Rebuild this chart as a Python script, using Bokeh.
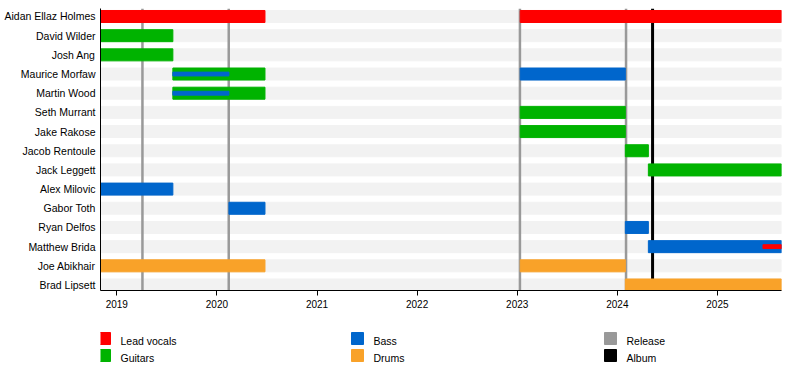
from bokeh.plotting import figure
from bokeh.models import Range1d, FixedTicker, ColumnDataSource
from bokeh.layouts import column
from bokeh.core.properties import value
from bokeh.embed import file_html
from bokeh.resources import INLINE

# ---------------- data ----------------
members = ["Aidan Ellaz Holmes", "David Wilder", "Josh Ang", "Maurice Morfaw",
           "Martin Wood", "Seth Murrant", "Jake Rakose", "Jacob Rentoule",
           "Jack Leggett", "Alex Milovic", "Gabor Toth", "Ryan Delfos",
           "Matthew Brida", "Joe Abikhair", "Brad Lipsett"]

roles = ["Lead vocals", "Guitars", "Bass", "Drums"]
role_colors = ["#ff0000", "#00b300", "#0066cc", "#f9a229"]

timeline_start = 2018.837
timeline_end = 2025.64

bar_member = ["Aidan Ellaz Holmes", "Aidan Ellaz Holmes", "David Wilder", "Josh Ang",
              "Maurice Morfaw", "Maurice Morfaw", "Martin Wood", "Seth Murrant",
              "Jake Rakose", "Jacob Rentoule", "Jack Leggett", "Alex Milovic",
              "Gabor Toth", "Ryan Delfos", "Matthew Brida", "Joe Abikhair",
              "Joe Abikhair", "Brad Lipsett"]
bar_start = [2018.837, 2023.03, 2018.837, 2018.837, 2019.56, 2023.03, 2019.56, 2023.03,
             2023.03, 2024.08, 2024.31, 2018.837, 2020.12, 2024.08, 2024.31, 2018.837,
             2023.03, 2024.08]
bar_end = [2020.48, 2025.64, 2019.56, 2019.56, 2020.48, 2024.08, 2020.48, 2024.08,
           2024.08, 2024.31, 2025.64, 2019.56, 2020.48, 2024.31, 2025.64, 2020.48,
           2024.08, 2025.64]
bar_role = ["Lead vocals", "Lead vocals", "Guitars", "Guitars", "Guitars", "Bass",
            "Guitars", "Guitars", "Guitars", "Guitars", "Guitars", "Bass", "Bass",
            "Bass", "Bass", "Drums", "Drums", "Drums"]

sec_member = ["Maurice Morfaw", "Martin Wood", "Matthew Brida"]
sec_start = [2019.56, 2019.56, 2025.455]
sec_end = [2020.12, 2020.12, 2025.64]
sec_role = ["Bass", "Bass", "Lead vocals"]

release_dates = [2019.256, 2020.118, 2023.027, 2024.087]
album_dates = [2024.352]

years = [2019, 2020, 2021, 2022, 2023, 2024, 2025]

legend_labels = ["Lead vocals", "Guitars", "Bass", "Drums", "Release", "Album"]
legend_colors = ["#ff0000", "#00b300", "#0066cc", "#f9a229", "#999999", "#000000"]

release_color = "#999999"
album_color = "#000000"
stripe_color = "#f2f2f2"

# ---------------- main chart ----------------
FONT = "Liberation Sans"
y_top = -0.417
y_bottom = 14.287
bar_h = 0.626
thin_h = 0.2
FRAME_L, FRAME_R = 100, 781
MAIN_H = 320

p = figure(width=800, height=MAIN_H, output_backend="svg", toolbar_location=None,
           x_range=Range1d(timeline_start, timeline_end),
           y_range=Range1d(y_bottom, y_top),
           min_border_left=FRAME_L, min_border_right=800 - FRAME_R, min_border_top=8,
           min_border_bottom=30)
p.outline_line_color = None
p.xgrid.visible = False
p.ygrid.visible = False

idx = {m: i for i, m in enumerate(members)}
cmap = dict(zip(roles, role_colors))

# background stripes
p.hbar(y=list(range(len(members))), left=timeline_start, right=timeline_end,
       height=bar_h, color=stripe_color)

# release / album lines
p.segment(x0=release_dates, x1=release_dates, y0=y_bottom, y1=y_top,
          line_color=release_color, line_width=2.5)
p.segment(x0=album_dates, x1=album_dates, y0=y_bottom, y1=y_top,
          line_color=album_color, line_width=3)

# main bars
src = ColumnDataSource(dict(
    y=[idx[m] for m in bar_member], left=bar_start, right=bar_end,
    color=[cmap[r] for r in bar_role]))
p.hbar(y="y", left="left", right="right", height=bar_h, color="color", source=src)

# secondary thin bars
src2 = ColumnDataSource(dict(
    y=[idx[m] for m in sec_member], left=sec_start, right=sec_end,
    color=[cmap[r] for r in sec_role]))
p.hbar(y="y", left="left", right="right", height=thin_h, color="color", source=src2)

# axes
p.xaxis.ticker = FixedTicker(ticks=years)
p.xaxis.major_label_overrides = {y: str(y) for y in years}
p.xaxis.minor_tick_line_color = None
p.xaxis.major_tick_in = 0
p.xaxis.major_tick_out = 5
p.xaxis.major_label_standoff = 4
p.xaxis.axis_line_color = "black"
p.xaxis.major_label_text_font = FONT
p.xaxis.major_label_text_font_size = "10px"
p.xaxis.major_label_text_color = "black"

p.yaxis.ticker = FixedTicker(ticks=list(range(len(members))))
p.yaxis.major_label_overrides = {i: m for i, m in enumerate(members)}
p.yaxis.minor_tick_line_color = None
p.yaxis.major_tick_line_color = None
p.yaxis.major_tick_in = 0
p.yaxis.major_tick_out = 0
p.yaxis.major_label_standoff = 5
p.yaxis.axis_line_color = "black"
p.yaxis.major_label_text_font = FONT
p.yaxis.major_label_text_font_size = "10.5px"
p.yaxis.major_label_text_color = "black"

# ---------------- legend ----------------
LEG_H = 50
lg = figure(width=800, height=LEG_H, output_backend="svg", toolbar_location=None,
            x_range=Range1d(FRAME_L, FRAME_R), y_range=Range1d(MAIN_H + LEG_H, MAIN_H),
            min_border=0)
lg.axis.visible = False
lg.grid.visible = False
lg.outline_line_color = None

col_x = [98, 351, 604]
row_y = [338, 355]
lx, ly, tx, ty = [], [], [], []
for i, lab in enumerate(legend_labels):
    c, r = i // 2, i % 2
    lx.append(col_x[c])
    ly.append(row_y[r])
    tx.append(col_x[c] + 22)
    ty.append(row_y[r] + 2)
lg.quad(left=lx, right=[x + 12 for x in lx], top=[y - 6 for y in ly],
        bottom=[y + 6 for y in ly], color=legend_colors)
lg.text(x=tx, y=ty, text=legend_labels, text_font=value(FONT),
        text_font_size="10.5px", text_baseline="middle", text_color="black")

layout = column(p, lg)
open("out.html", "w").write(file_html(layout, INLINE))
